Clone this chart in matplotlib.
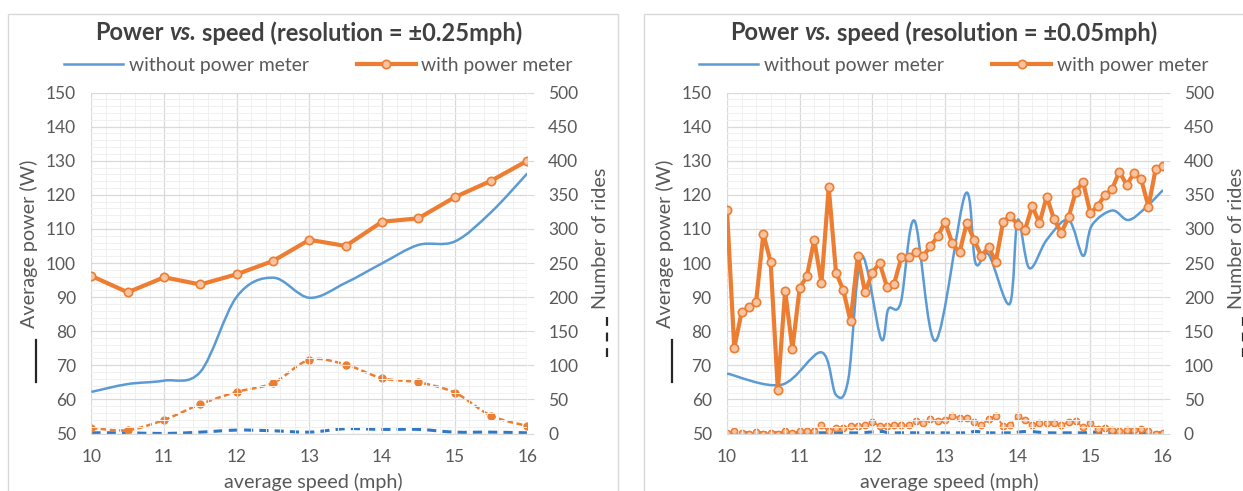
import numpy as np
import matplotlib.pyplot as plt
from matplotlib.path import Path
from matplotlib.patches import PathPatch, Rectangle
from matplotlib.lines import Line2D
from matplotlib.ticker import MultipleLocator

plt.rcParams['font.family'] = ['Lato', 'DejaVu Sans']

BLUE = '#5b9bd5'
DBLUE = '#2e78c4'
ORANGE = '#ed7d31'
LIGHT_OR = '#f6c4a2'
TXT = '#595959'
GRID = '#d9d9d9'
MINOR = '#f0f0f0'

# ---- left panel: 0.5 mph bins ----
speed_a = [10, 10.5, 11, 11.5, 12, 12.5, 13, 13.5, 14, 14.5, 15, 15.5, 16]
power_without_a = [62.2, 64.5, 65.5, 68.1, 90.1, 95.7, 89.8, 94.2, 99.9, 105.3, 106.3, 114.9, 126.3]
power_with_a = [96.2, 91.4, 95.8, 93.7, 96.7, 100.6, 106.8, 105.0, 112.1, 113.1, 119.3, 124.1, 130.0]
rides_without_a = [1, 1, 0, 2, 5, 4, 2, 7, 6, 6, 2, 2, 1]
rides_with_a = [8, 5, 20, 43, 61, 74, 108, 101, 81, 75, 60, 26, 11]

# ---- right panel: 0.1 mph bins ----
speed_b = [round(10 + 0.1 * i, 1) for i in range(61)]
power_with_b = [115.4, 75.1, 85.5, 87.0, 88.5, 108.5, 100.4, 62.7, 91.9, 74.8,
                92.6, 96.2, 106.8, 94.1, 122.2, 97.2, 92.1, 82.9, 102.1, 91.4,
                97.2, 100.0, 93.1, 93.9, 101.7, 101.7, 103.1, 102.0, 105.0, 107.8,
                112.1, 105.8, 103.1, 111.8, 106.8, 102.1, 104.6, 100.4, 112.1, 113.8,
                111.2, 109.7, 116.7, 111.7, 119.5, 112.8, 108.9, 113.4, 120.9, 123.8,
                114.6, 116.7, 119.9, 121.7, 126.8, 122.9, 126.3, 124.5, 116.5, 127.7,
                128.5]
rides_with_b = [1, 3, 1, 0, 2, 0, 1, 0, 3, 1,
                3, 4, 4, 13, 3, 8, 8, 11, 11, 12,
                17, 11, 11, 13, 12, 13, 18, 16, 21, 18,
                20, 25, 23, 23, 17, 12, 21, 26, 11, 12,
                25, 20, 13, 16, 15, 16, 12, 17, 18, 9,
                15, 7, 8, 5, 3, 5, 5, 7, 4, 0,
                1]
speed_b_without = [10.0, 10.75, 11.3, 11.5, 11.67, 11.85, 12.12, 12.22, 12.39, 12.58,
                   12.87, 13.28, 13.42, 13.6, 13.89, 14.0, 14.16, 14.4, 14.7, 14.9,
                   15.02, 15.3, 15.52, 15.75, 16.0]
power_without_b = [67.6, 64.3, 73.8, 61.3, 66.0, 102.0, 77.8, 86.5, 88.3, 112.4,
                   77.2, 120.2, 100.0, 102.5, 88.0, 112.6, 98.5, 106.8, 112.6, 102.1,
                   111.0, 115.4, 112.6, 116.0, 121.4]
rides_without_b = [1, 1, 1, 1, 1, 1, 3, 1, 1, 1,
                   1, 1, 3, 1, 1, 2, 3, 1, 1, 1,
                   2, 1, 1, 1, 1]

W, H = 1243, 491


def fx(px):
    return px / W


def fy(py):
    return 1 - py / H


def smooth_path(x, y):
    # Excel-like smoothed line: cubic bezier through every point
    pts = np.column_stack([np.asarray(x, float), np.asarray(y, float)])
    n = len(pts)
    verts = [pts[0]]
    codes = [Path.MOVETO]
    for i in range(n - 1):
        p0 = pts[max(i - 1, 0)]
        p1, p2 = pts[i], pts[i + 1]
        p3 = pts[min(i + 2, n - 1)]
        verts += [p1 + (p2 - p0) / 6, p2 - (p3 - p1) / 6, p2]
        codes += [Path.CURVE4] * 3
    return Path(verts, codes)


def title_text(fig, cx, py, parts, fs):
    # title with an italic "vs." in the middle, laid out piece by piece
    r = fig.canvas.get_renderer()
    kw = dict(fontsize=fs, fontweight='bold', color='#404040', va='center', ha='left')
    probe1 = fig.text(0, 0, 'a a', **kw)
    probe2 = fig.text(0, 0, 'aa', **kw)
    space = probe1.get_window_extent(r).width - probe2.get_window_extent(r).width
    probe1.remove()
    probe2.remove()
    texts = [fig.text(0, fy(py), s, fontstyle=st, **kw) for s, st in parts]
    widths = [t.get_window_extent(r).width for t in texts]
    total = sum(widths) + space * (len(parts) - 1)
    x = cx - total / 2
    for t, w in zip(texts, widths):
        t.set_x(fx(x))
        x += w + space


def panel(fig, x0, res, sp_wo, pw_wo, rd_wo, sp_w, pw_w, rd_w, fine):
    # panel frame
    fig.add_artist(Rectangle((fx(x0 - 83), fy(520)), fx(610), fy(14) - fy(520),
                             transform=fig.transFigure, fill=False, ec=GRID, lw=1))
    ax = fig.add_axes([fx(x0), fy(433.5), fx(436), fy(92.5) - fy(433.5)])
    ax2 = ax.twinx()

    ax.set_xlim(10, 16)
    ax.set_ylim(50, 150)
    ax2.set_ylim(0, 500)
    ax.xaxis.set_major_locator(MultipleLocator(1))
    ax.xaxis.set_minor_locator(MultipleLocator(0.2))
    ax.yaxis.set_major_locator(MultipleLocator(10))
    ax.yaxis.set_minor_locator(MultipleLocator(2))
    ax2.yaxis.set_major_locator(MultipleLocator(50))
    ax.grid(which='major', color=GRID, lw=0.9)
    ax.grid(which='minor', color=MINOR, lw=0.7)
    ax.set_axisbelow(True)
    for a in (ax, ax2):
        for s in a.spines.values():
            s.set_visible(False)
    ax.spines['bottom'].set_visible(True)
    ax.spines['bottom'].set_color(GRID)
    ax.tick_params(which='both', length=0, labelsize=12.5, labelcolor=TXT)
    ax.tick_params(axis='y', pad=11)
    ax.tick_params(axis='x', pad=11)
    ax2.tick_params(axis='y', length=5, color=GRID, labelsize=12.5, labelcolor=TXT, pad=10)

    # number of rides (secondary axis)
    ax2.add_patch(PathPatch(smooth_path(sp_wo, rd_wo), fill=False, ec=DBLUE, lw=2.2,
                            ls=(0, (3, 2)), capstyle='butt'))
    if fine:
        ax2.plot(sp_w, rd_w, color=ORANGE, lw=1.4, ls=(0, (2, 1.5)), marker='o', ms=4.5,
                 mfc=LIGHT_OR, mec=ORANGE, mew=1.1)
    else:
        ax2.add_patch(PathPatch(smooth_path(sp_w, rd_w), fill=False, ec=ORANGE, lw=1.8,
                                ls=(0, (2.4, 1.3)), capstyle='butt'))
        ax2.plot(sp_w, rd_w, ls='none', marker='o', ms=5, mfc=ORANGE, mec=ORANGE)

    # average power (primary axis)
    ax.add_patch(PathPatch(smooth_path(sp_wo, pw_wo), fill=False, ec=BLUE, lw=1.8))
    ax.plot(sp_w, pw_w, color=ORANGE, lw=3, marker='o', ms=6, mfc=LIGHT_OR, mec=ORANGE,
            mew=1.2, zorder=5)
    ax.set_zorder(ax2.get_zorder() + 1)
    ax.patch.set_visible(False)

    cx = x0 + 218
    title_text(fig, cx - 1, 33, [('Power', 'normal'), ('vs.', 'italic'),
                                 ('speed (resolution = ±%smph)' % res, 'normal')], 17)
    fig.text(fx(cx + 4), fy(482), 'average speed (mph)', ha='center', va='center',
             fontsize=14.2, color=TXT)
    fig.text(fx(x0 - 62), fy(244), 'Average power (W)', ha='center', va='center',
             rotation=90, fontsize=14.2, color=TXT)
    fig.text(fx(x0 + 509), fy(238), 'Number of rides', ha='center', va='center',
             rotation=90, fontsize=14.2, color=TXT)
    fig.add_artist(Line2D([fx(x0 - 55)] * 2, [fy(340), fy(382)], transform=fig.transFigure,
                          color='#262626', lw=1.6))
    fig.add_artist(Line2D([fx(x0 + 516)] * 2, [fy(317), fy(358)], transform=fig.transFigure,
                          color='#262626', lw=1.6, ls=(0, (4, 3))))

    handles = [Line2D([], [], color=BLUE, lw=1.8),
               Line2D([], [], color=ORANGE, lw=3, marker='o', ms=6, mfc=LIGHT_OR,
                      mec=ORANGE, mew=1.2)]
    leg = fig.legend(handles, ['without power meter', 'with power meter'], ncol=2,
                     loc='center', bbox_to_anchor=(fx(x0 + 227), fy(65)), frameon=False,
                     fontsize=13.9, handlelength=3.05, handletextpad=0.3, columnspacing=2.5,
                     borderpad=0, borderaxespad=0)
    for t in leg.get_texts():
        t.set_color(TXT)


fig = plt.figure(figsize=(W / 100, H / 100), dpi=100)
panel(fig, 91.4, '0.25', speed_a, power_without_a, rides_without_a,
      speed_a, power_with_a, rides_with_a, fine=False)
panel(fig, 727, '0.05', speed_b_without, power_without_b, rides_without_b,
      speed_b, power_with_b, rides_with_b, fine=True)
fig.savefig('out.png', dpi=100)
